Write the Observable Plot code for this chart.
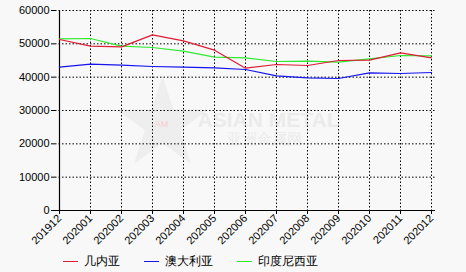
<!DOCTYPE html>
<html>
<head>
<meta charset="utf-8">
<script src="https://cdn.jsdelivr.net/npm/d3@7"></script>
<script src="https://cdn.jsdelivr.net/npm/@observablehq/plot@0.6"></script>
<style>
  html, body { margin: 0; padding: 0; background: #f8f8f8; }
  body { width: 466px; height: 272px; overflow: hidden; font-family: "Liberation Sans", Arial, sans-serif; }
  #legend { display: flex; align-items: center; height: 22px; padding-left: 63px; font-size: 11.5px; color: #000; }
  .item { display: flex; align-items: center; margin-right: 24px; }
  .swatch { width: 15px; height: 0; border-top: 1.2px solid; margin-right: 6px; }
</style>
</head>
<body>
<div id="chart"></div>
<div id="legend"></div>
<script>
const months = ["201912","202001","202002","202003","202004","202005","202006","202007","202008","202009","202010","202011","202012"];
const guinea    = [51300,49300,49100,52700,50900,48100,42700,43800,43500,45000,45100,47300,45800];
const australia = [43000,43900,43600,43200,43000,42800,42300,40400,39800,39600,41300,41100,41400];
const indonesia = [51500,51600,49300,48900,47800,46000,45800,44700,44800,44500,45500,46500,46400];
const seriesNames = ["几内亚","澳大利亚","印度尼西亚"];
const seriesColors = ["#de1c34","#1414ee","#30e830"];
const yTicks = [0,10000,20000,30000,40000,50000,60000];

const seriesValues = [guinea, australia, indonesia];
const rows = [];
seriesNames.forEach((name, i) => {
  months.forEach((m, j) => rows.push({series: name, month: m, value: seriesValues[i][j]}));
});

const chart = Plot.plot({
  width: 466,
  height: 250,
  marginLeft: 55,
  marginRight: 31,
  marginTop: 10,
  marginBottom: 40,
  style: {background: "transparent", fontFamily: "'Liberation Sans', Arial, sans-serif", fontSize: "11px", color: "#000"},
  x: {type: "point", domain: months, padding: 0, label: null},
  y: {domain: [0, 60000], label: null},
  color: {domain: seriesNames, range: seriesColors},
  marks: [
    Plot.dot([0], {frameAnchor: "middle", dx: -83, dy: 14, symbol: "star", r: 29, fill: "#eeeeee", stroke: "none"}),
    Plot.text(["AM"], {frameAnchor: "middle", dx: -84, dy: 14, fontSize: 9, fill: "#f4d0d0"}),
    Plot.text(["ASIAN METAL"], {frameAnchor: "middle", dx: 23, dy: 10, fontSize: 21, fontWeight: "bold", fill: "#ebebeb"}),
    Plot.text(["亚洲金属网"], {frameAnchor: "middle", dx: 19, dy: 29, fontSize: 15, fill: "#ebebeb"}),
    Plot.gridX(months.slice(1), {stroke: "#000", strokeOpacity: 1, strokeDasharray: "1.5,2"}),
    Plot.gridY(yTicks.slice(1), {stroke: "#000", strokeOpacity: 1, strokeDasharray: "1.5,2"}),
    Plot.axisY({ticks: yTicks, tickSize: 4, tickPadding: 2, tickFormat: d => String(d), fontSize: 11, label: null}),
    Plot.axisX({tickRotate: -45, tickSize: 4, tickPadding: 2, fontSize: 11, label: null}),
    Plot.ruleY([0], {stroke: "#000", strokeWidth: 1.2}),
    Plot.ruleX([months[0]], {stroke: "#000", strokeWidth: 1.2}),
    Plot.line(rows.filter(r => r.series === seriesNames[1]), {x: "month", y: "value", stroke: "series", strokeWidth: 1.2}),
    Plot.line(rows.filter(r => r.series === seriesNames[2]), {x: "month", y: "value", stroke: "series", strokeWidth: 1.2}),
    Plot.line(rows.filter(r => r.series === seriesNames[0]), {x: "month", y: "value", stroke: "series", strokeWidth: 1.2})
  ]
});
document.getElementById("chart").appendChild(chart);

const legend = document.getElementById("legend");
seriesNames.forEach((name, i) => {
  const item = document.createElement("div");
  item.className = "item";
  const sw = document.createElement("span");
  sw.className = "swatch";
  sw.style.borderTopColor = seriesColors[i];
  const label = document.createElement("span");
  label.textContent = name;
  item.appendChild(sw);
  item.appendChild(label);
  legend.appendChild(item);
});
</script>
</body>
</html>
